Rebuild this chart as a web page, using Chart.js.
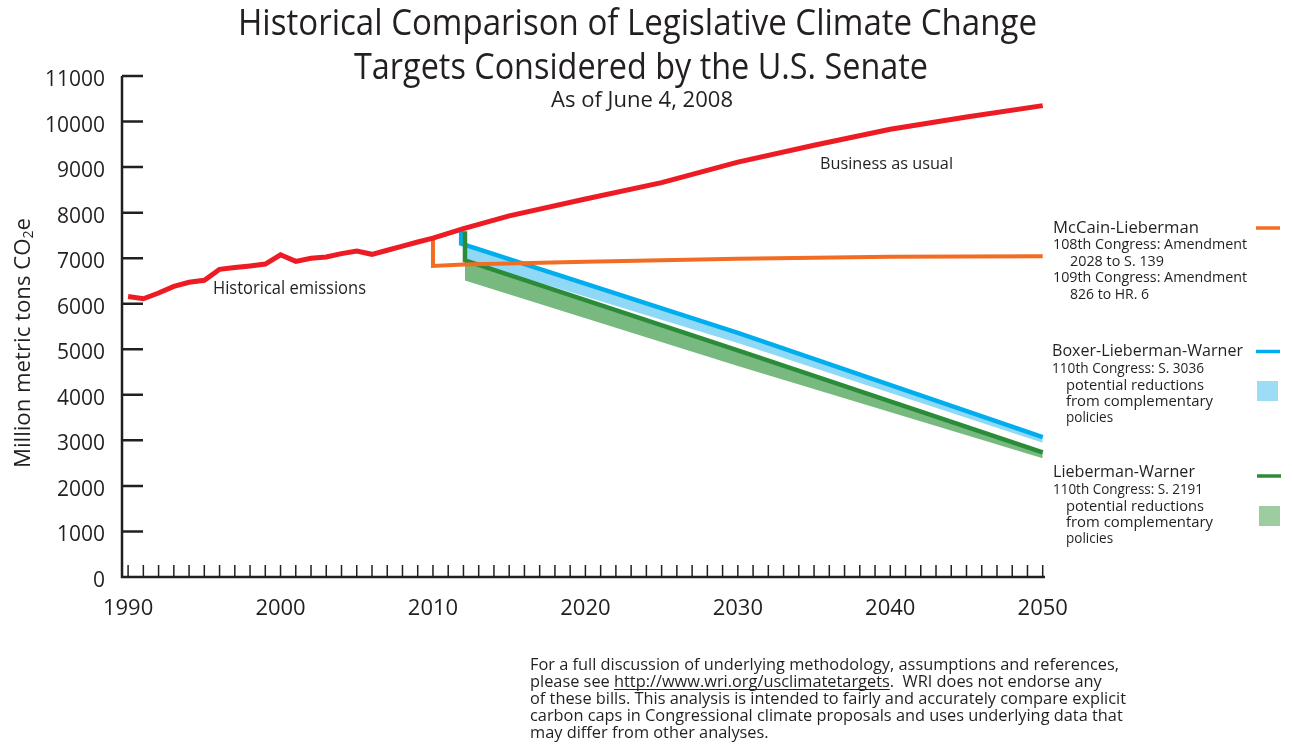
<!DOCTYPE html>
<html>
<head>
<meta charset="utf-8">
<script src="https://cdn.jsdelivr.net/npm/chart.js@4.4.1/dist/chart.umd.min.js"></script>
<style>
  html, body { margin: 0; background: #fff; }
  canvas { display: block; }
</style>
</head>
<body>
<canvas id="chart" width="1293" height="752"></canvas>
<script>
// --- data ---
const redYears = [1990, 1991, 1992, 1993, 1994, 1995, 1996, 1997, 1998, 1999, 2000, 2001, 2002, 2003,
                  2004, 2005, 2006, 2007, 2008, 2009, 2010, 2012, 2015, 2020, 2025, 2030, 2035, 2040, 2045, 2050];
const redValues = [6160, 6110, 6235, 6380, 6470, 6515, 6755, 6795, 6830, 6870, 7075, 6930, 7000, 7025,
                   7100, 7155, 7085, 7175, 7265, 7355, 7440, 7650, 7930, 8300, 8660, 9110, 9480, 9830, 10100, 10350];

const orangeYears = [2010, 2010, 2012, 2020, 2030, 2040, 2050];
const orangeValues = [7440, 6830, 6860, 6920, 6990, 7030, 7040];

const blueYears = [2011.85, 2011.85, 2030, 2050];
const blueValues = [7590, 7320, 5360, 3070];

const greenYears = [2012.1, 2012.1, 2030, 2050];
const greenValues = [7590, 6950, 4975, 2735];

const bandYears = [2012.1, 2030, 2050];
const blueBandTop = [7300, 5360, 3070];
const blueBandBottom = [6960, 5140, 2950];
const greenBandTop = [6950, 4975, 2735];
const greenBandBottom = [6510, 4630, 2610];

const xLabelYears = [1990, 2000, 2010, 2020, 2030, 2040, 2050];
const yTickValues = [0, 1000, 2000, 3000, 4000, 5000, 6000, 7000, 8000, 9000, 10000, 11000];

const ink = '#231f20';
const FONT = '"Open Sans", "Noto Sans", sans-serif';

function pts(xs, ys) {
  return xs.map((x, i) => ({ x: x, y: ys[i] }));
}

// text helper; w squeezes the string to a given width (the original uses a condensed face)
function txt(ctx, s, x, y, size, o) {
  o = o || {};
  ctx.save();
  ctx.font = size + 'px ' + FONT;
  ctx.fillStyle = o.color || ink;
  ctx.textAlign = 'left';
  ctx.textBaseline = 'alphabetic';
  const w = ctx.measureText(s).width;
  const sx = o.w ? o.w / w : (o.sx || 1);
  const left = o.align === 'center' ? x - w * sx / 2 : x;
  ctx.translate(left, y);
  ctx.scale(sx, 1);
  ctx.fillText(s, 0, 0);
  ctx.restore();
  return w * sx;
}

function seg(ctx, x1, y1, x2, y2, color, width) {
  ctx.save();
  ctx.strokeStyle = color;
  ctx.lineWidth = width;
  ctx.beginPath();
  ctx.moveTo(x1, y1);
  ctx.lineTo(x2, y2);
  ctx.stroke();
  ctx.restore();
}

const decor = {
  id: 'decor',
  afterDraw(chart) {
    const { ctx, chartArea: a, scales: { x, y } } = chart;

    // axes with inward ticks
    ctx.save();
    ctx.strokeStyle = ink;
    ctx.lineWidth = 2.5;
    ctx.beginPath();
    ctx.moveTo(a.left, a.top);
    ctx.lineTo(a.left, a.bottom);
    ctx.lineTo(a.right, a.bottom);
    yTickValues.forEach(v => {
      const py = y.getPixelForValue(v);
      ctx.moveTo(a.left, py);
      ctx.lineTo(a.left + 21, py);
    });
    ctx.stroke();
    ctx.lineWidth = 1.5;
    ctx.beginPath();
    for (let yr = 1990; yr <= 2050; yr++) {
      const px = x.getPixelForValue(yr);
      ctx.moveTo(px, a.bottom);
      ctx.lineTo(px, a.bottom - 12);
    }
    ctx.stroke();
    ctx.restore();

    // titles
    txt(ctx, 'Historical Comparison of Legislative Climate Change', 637.5, 35, 37, { align: 'center', w: 799 });
    txt(ctx, 'Targets Considered by the U.S. Senate', 641, 79, 37, { align: 'center', w: 574 });
    txt(ctx, 'As of June 4, 2008', 642, 107, 21, { align: 'center', w: 182 });

    // y axis title with subscript
    ctx.save();
    ctx.translate(30, 343);
    ctx.rotate(-Math.PI / 2);
    ctx.font = '22px ' + FONT;
    const p1 = 'Million metric tons CO';
    const w1 = ctx.measureText(p1).width;
    ctx.font = '14px ' + FONT;
    const w2 = ctx.measureText('2').width;
    ctx.font = '22px ' + FONT;
    const w3 = ctx.measureText('e').width;
    const sx = 250 / (w1 + w2 + w3);
    ctx.scale(sx, 1);
    ctx.fillStyle = ink;
    const x0 = -(w1 + w2 + w3) / 2;
    ctx.fillText(p1, x0, 0);
    ctx.font = '14px ' + FONT;
    ctx.fillText('2', x0 + w1, 3);
    ctx.font = '22px ' + FONT;
    ctx.fillText('e', x0 + w1 + w2, 0);
    ctx.restore();

    // inline labels
    txt(ctx, 'Historical emissions', 213, 294, 18, { w: 153 });
    txt(ctx, 'Business as usual', 820, 169, 17, { w: 133 });

    // legend
    txt(ctx, 'McCain-Lieberman', 1053, 233, 17, { w: 146 });
    txt(ctx, '108th Congress: Amendment', 1053, 249, 14.5, { w: 194 });
    txt(ctx, '2028 to S. 139', 1070, 265.5, 14.5, { w: 94 });
    txt(ctx, '109th Congress: Amendment', 1053, 282, 14.5, { w: 194 });
    txt(ctx, '826 to HR. 6', 1070, 298.5, 14.5, { w: 79 });
    seg(ctx, 1256, 228, 1280, 228, '#f26c22', 3.5);

    txt(ctx, 'Boxer-Lieberman-Warner', 1052, 356, 17, { w: 191 });
    txt(ctx, '110th Congress: S. 3036', 1052, 373, 14.5, { w: 152 });
    txt(ctx, 'potential reductions', 1066, 390, 15, { w: 138 });
    txt(ctx, 'from complementary', 1066, 406, 15, { w: 147 });
    txt(ctx, 'policies', 1066, 422, 15, { sx: 0.9 });
    seg(ctx, 1256, 351.5, 1280, 351.5, '#00aeef', 3.5);
    ctx.fillStyle = '#9ddcf5';
    ctx.fillRect(1257, 381, 21, 20);

    txt(ctx, 'Lieberman-Warner', 1053, 477, 17, { w: 142 });
    txt(ctx, '110th Congress: S. 2191', 1053, 494, 14.5, { w: 150 });
    txt(ctx, 'potential reductions', 1066, 511, 15, { w: 138 });
    txt(ctx, 'from complementary', 1066, 527, 15, { w: 147 });
    txt(ctx, 'policies', 1066, 543, 15, { sx: 0.9 });
    seg(ctx, 1257, 476, 1281, 476, '#2a8c38', 3.5);
    ctx.fillStyle = '#9dcca0';
    ctx.fillRect(1259, 506, 21, 20);

    // footnote
    ctx.save();
    ctx.font = '16px ' + FONT;
    const lines = [
      'For a full discussion of underlying methodology, assumptions and references,',
      null,
      'of these bills. This analysis is intended to fairly and accurately compare explicit',
      'carbon caps in Congressional climate proposals and uses underlying data that',
      'may differ from other analyses.'
    ];
    const fsx = 589 / ctx.measureText(lines[0]).width;
    ctx.restore();
    const base = [670, 687, 704, 721, 738];
    lines.forEach((s, i) => {
      if (s) txt(ctx, s, 530, base[i], 16, { sx: fsx });
    });
    let cx = 530;
    cx += txt(ctx, 'please see ', cx, base[1], 16, { sx: fsx });
    const uw = txt(ctx, 'http://www.wri.org/usclimatetargets', cx, base[1], 16, { sx: fsx });
    seg(ctx, cx, base[1] + 2.5, cx + uw, base[1] + 2.5, ink, 1);
    cx += uw;
    txt(ctx, '.  WRI does not endorse any', cx, base[1], 16, { sx: fsx });
  }
};

const lineDs = (label, xs, ys, color, width, order) => ({
  label: label,
  data: pts(xs, ys),
  borderColor: color,
  borderWidth: width,
  pointRadius: 0,
  tension: 0,
  fill: false,
  order: order,
  clip: false,
  borderJoinStyle: 'miter'
});

new Chart(document.getElementById('chart'), {
  type: 'line',
  data: {
    datasets: [
      { label: 'blue band top', data: pts(bandYears, blueBandTop), borderWidth: 0, pointRadius: 0, fill: false, order: 6 },
      { label: 'blue band', data: pts(bandYears, blueBandBottom), borderWidth: 0, pointRadius: 0, fill: '-1', backgroundColor: '#8fd9f6', order: 6 },
      { label: 'green band top', data: pts(bandYears, greenBandTop), borderWidth: 0, pointRadius: 0, fill: false, order: 5 },
      { label: 'green band', data: pts(bandYears, greenBandBottom), borderWidth: 0, pointRadius: 0, fill: '-1', backgroundColor: '#77b97f', order: 5 },
      lineDs('Boxer-Lieberman-Warner', blueYears, blueValues, '#00aeef', 4.5, 4),
      lineDs('Lieberman-Warner', greenYears, greenValues, '#2a8c38', 4.5, 3),
      lineDs('McCain-Lieberman', orangeYears, orangeValues, '#f26c22', 4, 2),
      lineDs('Historical / Business as usual', redYears, redValues, '#ed1c24', 5, 1)
    ]
  },
  options: {
    responsive: false,
    animation: false,
    layout: { padding: { left: 0, right: 248, top: 76, bottom: 135 } },
    plugins: { legend: { display: false }, tooltip: { enabled: false } },
    scales: {
      x: {
        type: 'linear',
        min: 1989.6,
        max: 2050.15,
        afterBuildTicks: s => { s.ticks = xLabelYears.map(v => ({ value: v })); },
        afterFit: s => { s.height = 40; },
        grid: { display: false, drawTicks: false },
        border: { display: false },
        ticks: {
          callback: v => String(v),
          font: { family: FONT, size: 22 },
          color: ink,
          padding: 19,
          maxRotation: 0,
          autoSkip: false
        }
      },
      y: {
        min: 0,
        max: 11000,
        afterBuildTicks: s => { s.ticks = yTickValues.map(v => ({ value: v })); },
        afterFit: s => { s.width = 122; },
        grid: { display: false, drawTicks: false },
        border: { display: false },
        ticks: {
          callback: v => String(v),
          font: { family: FONT, size: 21 },
          color: ink,
          padding: 17,
          labelOffset: 4
        }
      }
    }
  },
  plugins: [decor]
});
</script>
</body>
</html>
